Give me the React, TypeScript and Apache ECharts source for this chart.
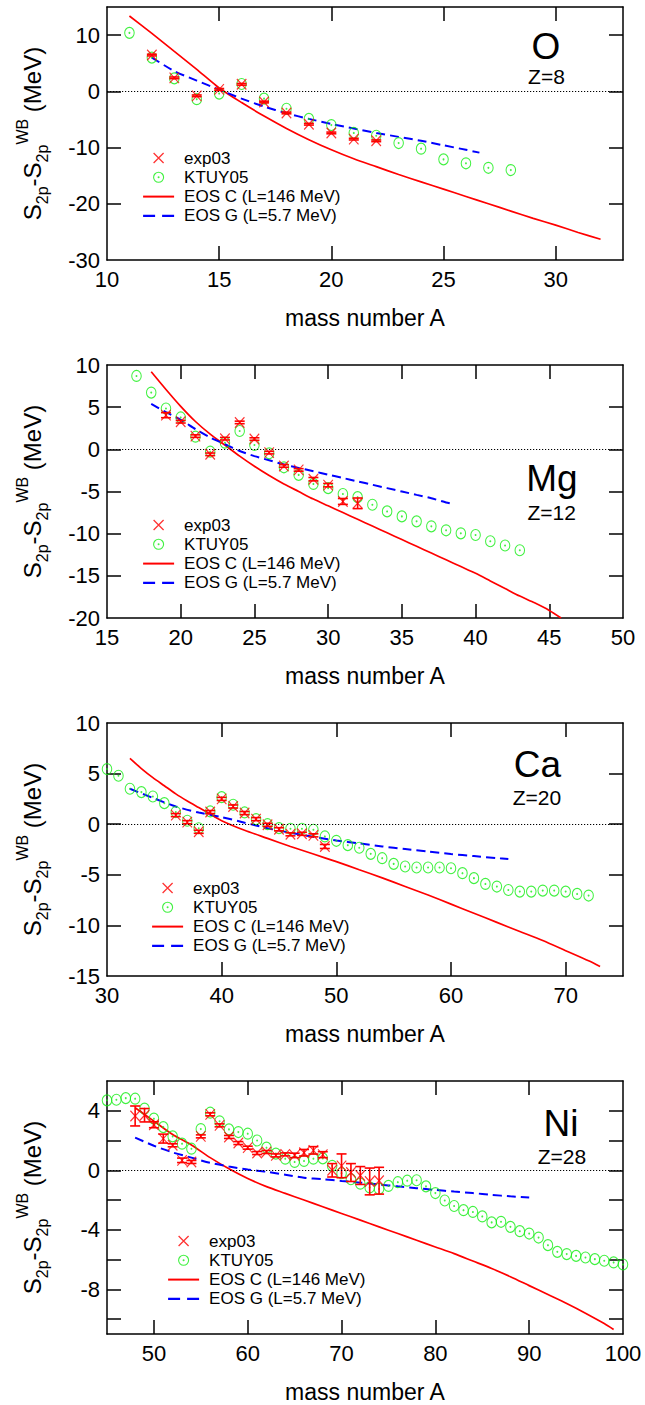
import React, { useEffect, useRef } from 'react';
import * as echarts from 'echarts';

// ---------------- data ----------------
// Oxygen, Z=8
const oKtuyA = [11, 12, 13, 14, 15, 16, 17, 18, 19, 20, 21, 22, 23, 24, 25, 26, 27, 28];
const oKtuy = [10.4, 6.0, 2.3, -1.4, -0.4, 1.3, -1.3, -3.1, -4.9, -6.0, -7.4, -7.9, -9.2, -10.2, -12.1, -12.8, -13.6, -14.0];
const oExpA = [12, 13, 14, 15, 16, 17, 18, 19, 20, 21, 22];
const oExp = [6.45, 2.4, -0.8, 0.35, 1.25, -1.9, -3.85, -5.85, -7.4, -8.5, -8.8];
const oExpErr = [0.15, 0.15, 0.15, 0.15, 0.15, 0.15, 0.15, 0.15, 0.15, 0.15, 0.15];
const oEosCA = [11, 12, 13, 14, 15, 16, 17, 18, 19, 20, 21, 22, 23, 24, 25, 26, 27, 28, 29, 30, 31, 32];
const oEosC = [13.4, 10.3, 7.1, 3.9, 0.6, -2.0, -4.4, -6.6, -8.6, -10.4, -12.0, -13.4, -14.8, -16.1, -17.4, -18.7, -20.0, -21.3, -22.6, -23.8, -25.1, -26.3];
const oEosGA = [12, 13, 14, 15, 16, 17, 18, 19, 20, 21, 22, 23, 24, 25, 26, 26.6];
const oEosG = [6.0, 3.6, 1.9, 0.3, -1.3, -2.7, -3.9, -4.9, -5.8, -6.6, -7.4, -8.1, -8.8, -9.6, -10.4, -10.9];

// Magnesium, Z=12
const mgKtuyA = [17, 18, 19, 20, 21, 22, 23, 24, 25, 26, 27, 28, 29, 30, 31, 32, 33, 34, 35, 36, 37, 38, 39, 40, 41, 42, 43];
const mgKtuy = [8.7, 6.73, 4.84, 3.78, 1.5, -0.28, 0.79, 2.17, 0.51, -0.47, -2.13, -3.03, -4.1, -4.6, -5.3, -5.67, -6.57, -7.36, -7.95, -8.54, -9.13, -9.6, -9.96, -10.16, -10.9, -11.4, -11.97];
const mgExpA = [19, 20, 21, 22, 23, 24, 25, 26, 27, 28, 29, 30, 31, 32];
const mgExp = [4.05, 3.27, 1.57, -0.59, 1.26, 3.19, 1.22, -0.39, -1.97, -2.44, -3.54, -4.25, -6.18, -6.4];
const mgExpErr = [0.3, 0.15, 0.15, 0.15, 0.15, 0.15, 0.15, 0.15, 0.15, 0.15, 0.2, 0.2, 0.35, 0.63];
const mgEosCA = [18, 19, 20, 21, 22, 23, 24, 25, 26, 27, 28, 29, 30, 31, 32, 33, 34, 35, 36, 37, 38, 39, 40, 41, 42, 43, 44, 45, 45.8];
const mgEosC = [9.2, 7.1, 5.1, 3.3, 1.8, 0.5, -0.8, -2.0, -3.1, -4.1, -5.0, -5.9, -6.7, -7.5, -8.3, -9.1, -9.9, -10.7, -11.5, -12.3, -13.1, -13.9, -14.7, -15.6, -16.5, -17.4, -18.2, -19.1, -20.0];
const mgEosGA = [18, 19, 20, 21, 22, 23, 24, 25, 26, 27, 28, 29, 30, 31, 32, 33, 34, 35, 36, 37, 38, 38.5];
const mgEosG = [5.4, 4.4, 3.5, 2.4, 1.4, 0.6, -0.2, -0.8, -1.3, -1.8, -2.2, -2.6, -3.0, -3.4, -3.8, -4.2, -4.6, -5.0, -5.4, -5.8, -6.3, -6.5];

// Calcium, Z=20
const caKtuyA = [30, 31, 32, 33, 34, 35, 36, 37, 38, 39, 40, 41, 42, 43, 44, 45, 46, 47, 48, 49, 50, 51, 52, 53, 54, 55, 56, 57, 58, 59, 60, 61, 62, 63, 64, 65, 66, 67, 68, 69, 70, 71, 72];
const caKtuy = [5.45, 4.79, 3.5, 3.17, 2.74, 2.08, 1.2, 0.34, -0.4, 1.26, 2.67, 1.92, 1.16, 0.5, 0.0, -0.39, -0.45, -0.45, -0.55, -1.21, -1.64, -2.07, -2.33, -2.93, -3.36, -3.92, -4.18, -4.28, -4.28, -4.28, -4.35, -4.84, -5.33, -5.9, -6.16, -6.5, -6.66, -6.66, -6.56, -6.56, -6.66, -6.89, -7.05];
const caExpA = [36, 37, 38, 39, 40, 41, 42, 43, 44, 45, 46, 47, 48, 49];
const caExp = [0.9, 0.2, -0.75, 1.2, 2.5, 1.75, 1.1, 0.5, -0.06, -0.5, -1.0, -0.95, -1.1, -2.2];
const caExpErr = [0.15, 0.15, 0.15, 0.15, 0.15, 0.15, 0.15, 0.15, 0.15, 0.15, 0.15, 0.15, 0.15, 0.2];
const caEosCA = [32, 33, 34, 35, 36, 37, 38, 39, 40, 42, 44, 46, 48, 50, 52, 54, 56, 58, 60, 62, 64, 66, 68, 70, 72, 73];
const caEosC = [6.5, 5.5, 4.6, 3.8, 3.0, 2.3, 1.65, 1.0, 0.35, -0.6, -1.4, -2.2, -2.95, -3.7, -4.5, -5.3, -6.15, -7.0, -7.9, -8.8, -9.7, -10.6, -11.5, -12.5, -13.5, -14.07];
const caEosGA = [32, 34, 36, 38, 40, 42, 44, 46, 48, 50, 52, 54, 56, 58, 60, 62, 64, 65];
const caEosG = [3.5, 2.6, 1.75, 1.15, 0.7, 0.15, -0.4, -0.85, -1.25, -1.6, -1.9, -2.2, -2.45, -2.7, -2.95, -3.15, -3.35, -3.45];

// Nickel, Z=28
const niKtuyA = [45, 46, 47, 48, 49, 50, 51, 52, 53, 54, 55, 56, 57, 58, 59, 60, 61, 62, 63, 64, 65, 66, 67, 68, 69, 70, 71, 72, 73, 74, 75, 76, 77, 78, 79, 80, 81, 82, 83, 84, 85, 86, 87, 88, 89, 90, 91, 92, 93, 94, 95, 96, 97, 98, 99, 100];
const niKtuy = [4.7, 4.74, 4.85, 4.81, 4.14, 3.47, 2.9, 2.28, 1.79, 1.45, 2.77, 3.87, 3.29, 2.75, 2.57, 2.46, 2.0, 1.52, 1.12, 0.78, 0.56, 0.63, 0.78, 0.8, 0.3, -0.2, -0.6, -0.9, -1.15, -1.25, -1.05, -0.8, -0.7, -0.67, -1.08, -1.53, -2.03, -2.4, -2.68, -2.8, -3.1, -3.5, -3.46, -3.8, -4.09, -4.25, -4.52, -5.03, -5.48, -5.63, -5.75, -5.86, -5.97, -6.08, -6.19, -6.33];
const niExpA = [48, 49, 50, 51, 52, 53, 54, 55, 56, 57, 58, 59, 60, 61, 62, 63, 64, 65, 66, 67, 68, 69, 70, 71, 72, 73, 74];
const niExp = [3.65, 3.7, 3.06, 2.13, 1.68, 0.67, 0.56, 2.28, 3.76, 3.02, 2.24, 1.83, 1.52, 1.16, 1.23, 1.0, 1.07, 1.0, 1.18, 1.34, 1.05, 0.0, 0.3, -0.15, -0.35, -0.75, -0.7];
const niExpErr = [0.67, 0.45, 0.2, 0.3, 0.1, 0.15, 0.1, 0.1, 0.1, 0.1, 0.1, 0.1, 0.1, 0.1, 0.1, 0.1, 0.1, 0.15, 0.22, 0.25, 0.2, 0.45, 0.8, 0.6, 0.6, 0.9, 0.9];
const niEosCA = [48, 50, 52, 54, 56, 58, 60, 62, 64, 66, 68, 70, 72, 74, 76, 78, 80, 82, 84, 86, 88, 90, 92, 94, 96, 98, 99];
const niEosC = [4.2, 3.3, 2.4, 1.7, 0.85, 0.1, -0.55, -1.1, -1.55, -2.0, -2.45, -2.9, -3.35, -3.8, -4.25, -4.7, -5.15, -5.6, -6.1, -6.6, -7.15, -7.75, -8.35, -8.95, -9.6, -10.3, -10.7];
const niEosGA = [48, 50, 52, 54, 56, 58, 60, 62, 64, 66, 68, 70, 72, 74, 76, 78, 80, 82, 84, 86, 88, 90];
const niEosG = [2.2, 1.65, 1.2, 0.85, 0.5, 0.25, 0.05, -0.1, -0.3, -0.5, -0.6, -0.72, -0.83, -0.95, -1.08, -1.2, -1.32, -1.43, -1.53, -1.65, -1.75, -1.83];

// tick / label values
const oXLabels = [10, 15, 20, 25, 30];
const oYLabels = [-30, -20, -10, 0, 10];
const mgXLabels = [15, 20, 25, 30, 35, 40, 45, 50];
const mgYLabels = [-20, -15, -10, -5, 0, 5, 10];
const caXLabels = [30, 40, 50, 60, 70];
const caYLabels = [-15, -10, -5, 0, 5, 10];
const niXLabels = [50, 60, 70, 80, 90, 100];
const niYLabels = [-8, -4, 0, 4];
const niYTicks = [-10, -8, -6, -4, -2, 0, 2, 4];

const LEGEND_NAMES = ['exp03', 'KTUY05', 'EOS C (L=146 MeV)', 'EOS G (L=5.7 MeV)'];

// ---------------- styling / layout ----------------
const FONT = '"Liberation Sans", Arial, Helvetica, sans-serif';
const RED = '#ff0000';
const GREEN = '#11ee11';
const BLUE = '#0000ff';
const CROSS = 'path://M0,0L10,10M10,0L0,10';
const RING = 'path://M10,5A5,5,0,1,1,0,5A5,5,0,1,1,10,5ZM5.45,5A0.45,0.45,0,1,1,4.55,5A0.45,0.45,0,1,1,5.45,5Z';

const panels = [
  {
    sym: 'O', zText: 'Z=8', top: 7, xMin: 10, xMax: 33, yMin: -30, yMax: 15,
    xLabels: oXLabels, yLabels: oYLabels, yTicks: oYLabels,
    ktuyA: oKtuyA, ktuy: oKtuy, expA: oExpA, exp: oExp, err: oExpErr,
    cA: oEosCA, c: oEosC, gA: oEosGA, g: oEosG,
    legLeft: 142, legTop: 149.5, symPos: [546, 46.5], zPos: [546.5, 76],
  },
  {
    sym: 'Mg', zText: 'Z=12', top: 365, xMin: 15, xMax: 50, yMin: -20, yMax: 10,
    xLabels: mgXLabels, yLabels: mgYLabels, yTicks: mgYLabels,
    ktuyA: mgKtuyA, ktuy: mgKtuy, expA: mgExpA, exp: mgExp, err: mgExpErr,
    cA: mgEosCA, c: mgEosC, gA: mgEosGA, g: mgEosG,
    legLeft: 142, legTop: 516.5, symPos: [552, 478], zPos: [551.7, 512.5],
  },
  {
    sym: 'Ca', zText: 'Z=20', top: 723, xMin: 30, xMax: 75, yMin: -15, yMax: 10,
    xLabels: caXLabels, yLabels: caYLabels, yTicks: caYLabels,
    ktuyA: caKtuyA, ktuy: caKtuy, expA: caExpA, exp: caExp, err: caExpErr,
    cA: caEosCA, c: caEosC, gA: caEosGA, g: caEosG,
    legLeft: 151, legTop: 879.5, symPos: [537.5, 764], zPos: [537, 797.5],
  },
  {
    sym: 'Ni', zText: 'Z=28', top: 1081, xMin: 45, xMax: 100, yMin: -11, yMax: 6,
    xLabels: niXLabels, yLabels: niYLabels, yTicks: niYTicks,
    ktuyA: niKtuyA, ktuy: niKtuy, expA: niExpA, exp: niExp, err: niExpErr,
    cA: niEosCA, c: niEosC, gA: niEosGA, g: niEosG,
    legLeft: 167, legTop: 1232.5, symPos: [561, 1123.5], zPos: [562, 1156],
  },
];

const GRID_LEFT = 107;
const GRID_W = 516;
const GRID_H = 253;

const pairs = (xs: number[], ys: number[]) => xs.map((x, i) => [x, ys[i]]);

function buildOption() {
  const grid: any[] = [];
  const xAxis: any[] = [];
  const yAxis: any[] = [];
  const series: any[] = [];
  const legend: any[] = [];
  const graphic: any[] = [];

  const lineBlack = { color: '#000', width: 1.5 };

  panels.forEach((p, i) => {
    grid.push({ left: GRID_LEFT, top: p.top, width: GRID_W, height: GRID_H, containLabel: false });
    const xInner = p.xLabels.filter((v) => v > p.xMin && v < p.xMax);
    const yInner = p.yTicks.filter((v) => v > p.yMin && v < p.yMax);
    // bottom x
    xAxis.push({
      type: 'value', gridIndex: i, min: p.xMin, max: p.xMax, position: 'bottom',
      axisLine: { show: true, onZero: false, lineStyle: lineBlack },
      axisTick: { show: true, inside: true, length: 14, lineStyle: lineBlack, customValues: xInner },
      axisLabel: { show: true, customValues: p.xLabels, fontSize: 22, color: '#000', fontFamily: FONT, margin: 8 },
      splitLine: { show: false },
      name: 'mass number A', nameLocation: 'middle', nameGap: 46,
      nameTextStyle: { fontSize: 23, color: '#000', fontFamily: FONT },
    });
    // top x
    xAxis.push({
      type: 'value', gridIndex: i, min: p.xMin, max: p.xMax, position: 'top',
      axisLine: { show: true, onZero: false, lineStyle: lineBlack },
      axisTick: { show: true, inside: true, length: 14, lineStyle: lineBlack, customValues: xInner },
      axisLabel: { show: false },
      splitLine: { show: false },
    });
    // left y
    yAxis.push({
      type: 'value', gridIndex: i, min: p.yMin, max: p.yMax, position: 'left',
      axisLine: { show: true, onZero: false, lineStyle: lineBlack },
      axisTick: { show: true, inside: true, length: 14, lineStyle: lineBlack, customValues: yInner },
      axisLabel: { show: true, customValues: p.yLabels, fontSize: 22, color: '#000', fontFamily: FONT, margin: 7 },
      splitLine: { show: false },
      name: '{m|S}{sb|2p}{m|-S}{sb|2p}{sp|WB}{m| (MeV)}',
      nameLocation: 'middle', nameRotate: 90, nameGap: 57,
      nameTextStyle: {
        color: '#000', fontFamily: FONT,
        rich: {
          m: { fontSize: 24, lineHeight: 36, fontFamily: FONT, color: '#000', verticalAlign: 'middle' },
          sb: { fontSize: 16, lineHeight: 16, fontFamily: FONT, color: '#000', verticalAlign: 'bottom' },
          sp: { fontSize: 16, lineHeight: 16, fontFamily: FONT, color: '#000', verticalAlign: 'top' },
        },
      },
    });
    // right y
    yAxis.push({
      type: 'value', gridIndex: i, min: p.yMin, max: p.yMax, position: 'right',
      axisLine: { show: true, onZero: false, lineStyle: lineBlack },
      axisTick: { show: true, inside: true, length: 14, lineStyle: lineBlack, customValues: yInner },
      axisLabel: { show: false },
      splitLine: { show: false },
    });

    const xi = 2 * i;
    const yi = 2 * i;

    series.push({
      name: 'EOS C (L=146 MeV)', type: 'line', xAxisIndex: xi, yAxisIndex: yi,
      data: pairs(p.cA, p.c), symbol: 'none', smooth: 0.25, silent: true, z: 2,
      lineStyle: { color: RED, width: 1.7 }, itemStyle: { color: RED },
      markLine: {
        silent: true, symbol: ['none', 'none'], label: { show: false },
        lineStyle: { color: '#000', type: [1.2, 1.8], width: 1.2 },
        data: [{ yAxis: 0 }],
      },
    });
    series.push({
      name: 'EOS G (L=5.7 MeV)', type: 'line', xAxisIndex: xi, yAxisIndex: yi,
      data: pairs(p.gA, p.g), symbol: 'none', smooth: 0.25, silent: true, z: 2,
      lineStyle: { color: BLUE, width: 2, type: [9, 5] }, itemStyle: { color: BLUE },
    });
    series.push({
      name: 'KTUY05', type: 'scatter', xAxisIndex: xi, yAxisIndex: yi,
      data: pairs(p.ktuyA, p.ktuy), symbol: RING, symbolSize: [9.5, 11], silent: true, z: 3,
      itemStyle: { color: 'rgba(0,0,0,0)', borderColor: GREEN, borderWidth: 1.1 },
    });
    series.push({
      name: 'exp03 error', type: 'custom', xAxisIndex: xi, yAxisIndex: yi, silent: true, z: 4,
      data: p.expA.map((a, k) => [a, p.exp[k] - p.err[k], p.exp[k] + p.err[k]]),
      encode: { x: 0, y: [1, 2] },
      renderItem: (params: any, api: any) => {
        const x = api.value(0);
        const top = api.coord([x, api.value(2)]);
        const bot = api.coord([x, api.value(1)]);
        const w = 5;
        const st = { stroke: RED, lineWidth: 1.6 };
        return {
          type: 'group',
          children: [
            { type: 'line', shape: { x1: top[0], y1: top[1], x2: bot[0], y2: bot[1] }, style: st },
            { type: 'line', shape: { x1: top[0] - w, y1: top[1], x2: top[0] + w, y2: top[1] }, style: st },
            { type: 'line', shape: { x1: bot[0] - w, y1: bot[1], x2: bot[0] + w, y2: bot[1] }, style: st },
          ],
        };
      },
    });
    series.push({
      name: 'exp03', type: 'scatter', xAxisIndex: xi, yAxisIndex: yi,
      data: pairs(p.expA, p.exp), symbol: CROSS, symbolSize: [9.5, 10.5], silent: true, z: 5,
      itemStyle: { color: 'rgba(0,0,0,0)', borderColor: RED, borderWidth: 1.2 },
    });

    legend.push({
      orient: 'vertical', left: p.legLeft, top: p.legTop, padding: 0,
      itemWidth: 31, itemHeight: 10, itemGap: 2.3, selectedMode: false,
      textStyle: { fontSize: 17, fontFamily: FONT, color: '#000', padding: [0, 0, 0, 5] },
      data: [
        { name: LEGEND_NAMES[0], icon: CROSS, itemStyle: { color: 'rgba(0,0,0,0)', borderColor: RED, borderWidth: 1.3 } },
        { name: LEGEND_NAMES[1], icon: RING, itemStyle: { color: 'rgba(0,0,0,0)', borderColor: GREEN, borderWidth: 1.1 } },
        { name: LEGEND_NAMES[2], itemStyle: { opacity: 0 }, lineStyle: { width: 2 } },
        { name: LEGEND_NAMES[3], itemStyle: { opacity: 0 }, lineStyle: { width: 2.2, type: [12, 7] } },
      ],
    });

    graphic.push({
      type: 'text', x: p.symPos[0], y: p.symPos[1], silent: true,
      style: { text: p.sym, fontSize: 37, fontFamily: FONT, fill: '#000', align: 'center', verticalAlign: 'middle' },
    });
    graphic.push({
      type: 'text', x: p.zPos[0], y: p.zPos[1], silent: true,
      style: { text: p.zText, fontSize: 21, fontFamily: FONT, fill: '#000', align: 'center', verticalAlign: 'middle' },
    });
  });

  return {
    animation: false,
    backgroundColor: '#fff',
    grid, xAxis, yAxis, series, legend, graphic,
  };
}

export default function App() {
  const ref = useRef<HTMLDivElement>(null);
  useEffect(() => {
    if (!ref.current) return;
    const chart = echarts.init(ref.current, undefined, { renderer: 'svg' });
    chart.setOption(buildOption() as any);
    return () => chart.dispose();
  }, []);
  return (
    <div
      ref={ref}
      style={{ position: 'absolute', left: 0, top: 0, width: 645, height: 1405, background: '#fff' }}
    />
  );
}
